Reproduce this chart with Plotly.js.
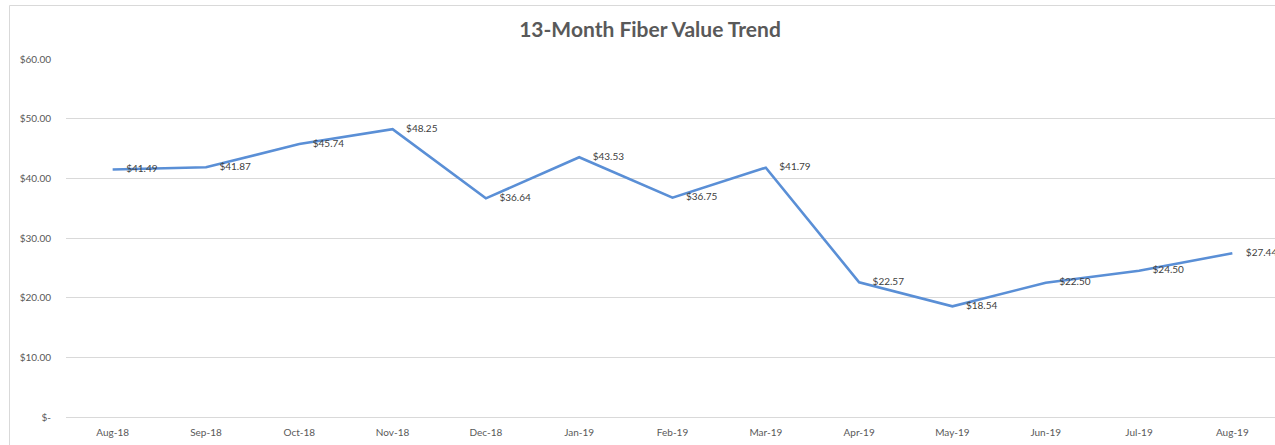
<!DOCTYPE html>
<html>
<head>
<meta charset="utf-8">
<script src="https://cdn.plot.ly/plotly-3.0.1.min.js"></script>
<style>
html,body{margin:0;padding:0;overflow:hidden;background:#fff;}
#chart{width:1279px;height:445px;}
</style>
</head>
<body>
<div id="chart"></div>
<script>
const months = ["Aug-18","Sep-18","Oct-18","Nov-18","Dec-18","Jan-19","Feb-19","Mar-19","Apr-19","May-19","Jun-19","Jul-19","Aug-19"];
const fiberValue = [41.49, 41.87, 45.74, 48.25, 36.64, 43.53, 36.75, 41.79, 22.57, 18.54, 22.50, 24.50, 27.44];
const yTickVals = [0, 10, 20, 30, 40, 50, 60];
const yTickText = ["$-", "$10.00", "$20.00", "$30.00", "$40.00", "$50.00", "$60.00"];
const chartTitle = "13-Month Fiber Value Trend";

const fontFamily = "Lato, 'Open Sans', 'Liberation Sans', sans-serif";

const trace = {
  x: months,
  y: fiberValue,
  type: "scatter",
  mode: "lines+markers+text",
  line: {color: "#5A8FD6", width: 2.6},
  marker: {size: 20, opacity: 0, color: "#5A8FD6"},
  text: fiberValue.map(v => "$" + v.toFixed(2)),
  textposition: "middle right",
  textfont: {family: fontFamily, size: 10, color: "#404040"},
  cliponaxis: false,
  hoverinfo: "x+y"
};

const layout = {
  width: 1279,
  height: 445,
  margin: {l: 66, r: 0, t: 59, b: 28, pad: 0},
  paper_bgcolor: "#ffffff",
  plot_bgcolor: "#ffffff",
  showlegend: false,
  title: {
    text: "<b>" + chartTitle + "</b>",
    font: {family: fontFamily, size: 21, color: "#595959"},
    x: (650 - 66) / 1213, xanchor: "center", xref: "paper",
    y: 1 - 30 / 445, yanchor: "middle", yref: "container"
  },
  xaxis: {
    type: "category",
    range: [-0.5, 12.5],
    showgrid: false,
    zeroline: false,
    showline: false,
    ticks: "",
    tickfont: {family: fontFamily, size: 10, color: "#595959"},
    ticklabelstandoff: 8,
    fixedrange: true
  },
  yaxis: {
    range: [0, 60],
    tickvals: yTickVals,
    ticktext: yTickText,
    showgrid: true,
    gridcolor: "#d9d9d9",
    gridwidth: 1,
    zeroline: true,
    zerolinecolor: "#d9d9d9",
    zerolinewidth: 1,
    showline: false,
    ticks: "",
    tickfont: {family: fontFamily, size: 10, color: "#595959"},
    ticklabelstandoff: 14,
    fixedrange: true
  },
  shapes: [
    {type: "line", xref: "paper", yref: "paper",
     x0: (9.5 - 66) / 1213, x1: 1.01, y0: 1 + (59 - 5.5) / 358, y1: 1 + (59 - 5.5) / 358,
     line: {color: "#d9d9d9", width: 1}},
    {type: "line", xref: "paper", yref: "paper",
     x0: (9.5 - 66) / 1213, x1: (9.5 - 66) / 1213, y0: 1 + (59 - 5.5) / 358, y1: -0.1,
     line: {color: "#d9d9d9", width: 1}}
  ]
};

Plotly.newPlot("chart", [trace], layout, {displayModeBar: false, staticPlot: true});
</script>
</body>
</html>
